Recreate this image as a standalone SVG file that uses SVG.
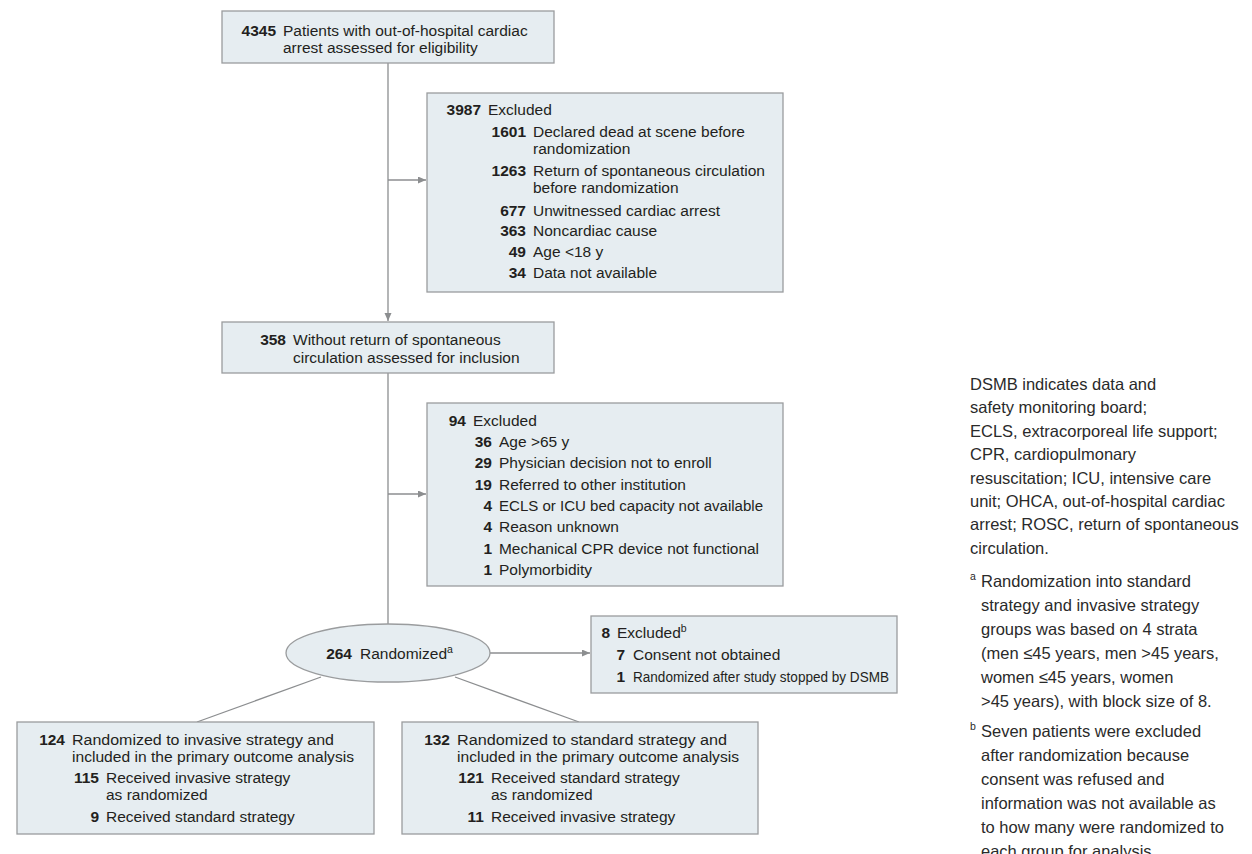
<svg xmlns="http://www.w3.org/2000/svg" width="1252" height="854" viewBox="0 0 1252 854">
<style>
.box{fill:#e6edf1;stroke:#9a9c9e;stroke-width:1.3}
.ln{fill:none;stroke:#8c8e90;stroke-width:1.3}
text{font-family:"Liberation Sans",Arial,sans-serif;font-size:15.5px;fill:#231f20}
.n{font-weight:bold;text-anchor:end}
.note{font-size:16.5px;fill:#2a2a2a}
.sup{font-size:10.5px}
</style>
<defs>
<marker id="arr" markerWidth="9" markerHeight="8" refX="8" refY="3.5" orient="auto" markerUnits="userSpaceOnUse">
<path d="M0,0 L8,3.5 L0,7 z" fill="#8c8e90"/>
</marker>
</defs>
<rect width="1252" height="854" fill="#ffffff"/>
<g id="connectors">
<line class="ln" x1="388" y1="63" x2="388" y2="321" marker-end="url(#arr)"/>
<line class="ln" x1="388" y1="180" x2="426" y2="180" marker-end="url(#arr)"/>
<line class="ln" x1="388" y1="373" x2="388" y2="624"/>
<line class="ln" x1="388" y1="494" x2="426" y2="494" marker-end="url(#arr)"/>
<line class="ln" x1="490" y1="653" x2="590" y2="653" marker-end="url(#arr)"/>
<line class="ln" x1="321" y1="677" x2="197" y2="722"/>
<line class="ln" x1="455" y1="677" x2="579" y2="722"/>
</g>
<g id="node-assessed">
<rect class="box" x="222" y="11" width="332" height="52"/>
<text class="n" x="276" y="36">4345</text>
<text x="283" y="36">Patients with out-of-hospital cardiac</text>
<text x="283" y="53">arrest assessed for eligibility</text>
</g>
<g id="node-excluded1">
<rect class="box" x="427" y="93" width="356" height="199"/>
<text class="n" x="481" y="115">3987</text>
<text x="488" y="115">Excluded</text>
<text class="n" x="526" y="137">1601</text>
<text x="533" y="137">Declared dead at scene before</text>
<text x="533" y="154">randomization</text>
<text class="n" x="526" y="176">1263</text>
<text x="533" y="176" textLength="232" lengthAdjust="spacingAndGlyphs">Return of spontaneous circulation</text>
<text x="533" y="193">before randomization</text>
<text class="n" x="526" y="216">677</text>
<text x="533" y="216">Unwitnessed cardiac arrest</text>
<text class="n" x="526" y="236">363</text>
<text x="533" y="236">Noncardiac cause</text>
<text class="n" x="526" y="257">49</text>
<text x="533" y="257">Age &lt;18 y</text>
<text class="n" x="526" y="278">34</text>
<text x="533" y="278">Data not available</text>
</g>
<g id="node-without-rosc">
<rect class="box" x="222" y="322" width="332" height="51"/>
<text class="n" x="286" y="345">358</text>
<text x="293" y="345">Without return of spontaneous</text>
<text x="293" y="363">circulation assessed for inclusion</text>
</g>
<g id="node-excluded2">
<rect class="box" x="427" y="403" width="356" height="183"/>
<text class="n" x="466" y="426">94</text>
<text x="473" y="426">Excluded</text>
<text class="n" x="492" y="447">36</text>
<text x="499" y="447">Age &gt;65 y</text>
<text class="n" x="492" y="468">29</text>
<text x="499" y="468">Physician decision not to enroll</text>
<text class="n" x="492" y="490">19</text>
<text x="499" y="490">Referred to other institution</text>
<text class="n" x="492" y="511">4</text>
<text x="499" y="511" textLength="264" lengthAdjust="spacingAndGlyphs">ECLS or ICU bed capacity not available</text>
<text class="n" x="492" y="532">4</text>
<text x="499" y="532">Reason unknown</text>
<text class="n" x="492" y="554">1</text>
<text x="499" y="554" textLength="260" lengthAdjust="spacingAndGlyphs">Mechanical CPR device not functional</text>
<text class="n" x="492" y="575">1</text>
<text x="499" y="575">Polymorbidity</text>
</g>
<g id="node-randomized">
<ellipse class="box" cx="388" cy="653" rx="102" ry="29"/>
<text class="n" x="352" y="659">264</text>
<text x="360" y="659">Randomized<tspan class="sup" dy="-6">a</tspan></text>
</g>
<g id="node-excluded3">
<rect class="box" x="591" y="616" width="306" height="77"/>
<text class="n" x="610" y="638">8</text>
<text x="617" y="638">Excluded<tspan class="sup" dy="-6">b</tspan></text>
<text class="n" x="625" y="660">7</text>
<text x="633" y="660">Consent not obtained</text>
<text class="n" x="625" y="682">1</text>
<text x="633" y="682" textLength="256" lengthAdjust="spacingAndGlyphs">Randomized after study stopped by DSMB</text>
</g>
<g id="node-invasive">
<rect class="box" x="17" y="722" width="357" height="112"/>
<text class="n" x="65" y="745">124</text>
<text x="72" y="745" textLength="262" lengthAdjust="spacingAndGlyphs">Randomized to invasive strategy and</text>
<text x="72" y="762" textLength="282" lengthAdjust="spacingAndGlyphs">included in the primary outcome analysis</text>
<text class="n" x="99" y="783">115</text>
<text x="106" y="783">Received invasive strategy</text>
<text x="106" y="800">as randomized</text>
<text class="n" x="99" y="822">9</text>
<text x="106" y="822">Received standard strategy</text>
</g>
<g id="node-standard">
<rect class="box" x="402" y="722" width="356" height="112"/>
<text class="n" x="450" y="745">132</text>
<text x="457" y="745" textLength="270" lengthAdjust="spacingAndGlyphs">Randomized to standard strategy and</text>
<text x="457" y="762" textLength="282" lengthAdjust="spacingAndGlyphs">included in the primary outcome analysis</text>
<text class="n" x="484" y="783">121</text>
<text x="491" y="783">Received standard strategy</text>
<text x="491" y="800">as randomized</text>
<text class="n" x="484" y="822">11</text>
<text x="491" y="822">Received invasive strategy</text>
</g>
<g id="notes">
<text class="note" x="970" y="390">DSMB indicates data and</text>
<text class="note" x="970" y="413">safety monitoring board;</text>
<text class="note" x="970" y="437">ECLS, extracorporeal life support;</text>
<text class="note" x="970" y="460">CPR, cardiopulmonary</text>
<text class="note" x="970" y="484">resuscitation; ICU, intensive care</text>
<text class="note" x="970" y="507">unit; OHCA, out-of-hospital cardiac</text>
<text class="note" x="970" y="530">arrest; ROSC, return of spontaneous</text>
<text class="note" x="970" y="554">circulation.</text>
<text class="note sup" x="970" y="580">a</text>
<text class="note" x="981" y="587">Randomization into standard</text>
<text class="note" x="981" y="611">strategy and invasive strategy</text>
<text class="note" x="981" y="635">groups was based on 4 strata</text>
<text class="note" x="981" y="659">(men ≤45 years, men &gt;45 years,</text>
<text class="note" x="981" y="683">women ≤45 years, women</text>
<text class="note" x="981" y="707">&gt;45 years), with block size of 8.</text>
<text class="note sup" x="970" y="730">b</text>
<text class="note" x="981" y="737">Seven patients were excluded</text>
<text class="note" x="981" y="761">after randomization because</text>
<text class="note" x="981" y="785">consent was refused and</text>
<text class="note" x="981" y="809">information was not available as</text>
<text class="note" x="981" y="833">to how many were randomized to</text>
<text class="note" x="981" y="857">each group for analysis.</text>
</g>
</svg>
